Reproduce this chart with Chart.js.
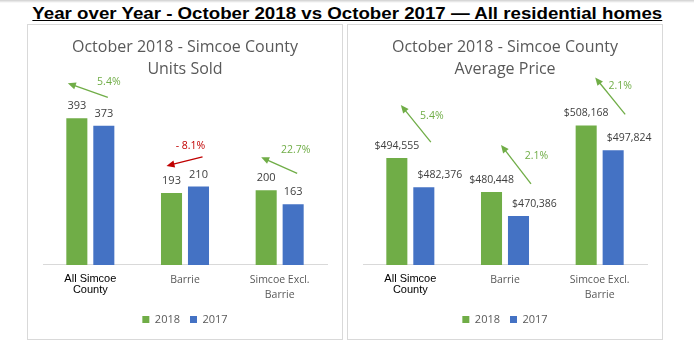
<!DOCTYPE html>
<html>
<head>
<meta charset="utf-8">
<script src="https://cdn.jsdelivr.net/npm/chart.js@4"></script>
<style>
  body { margin: 0; width: 694px; height: 351px; background: #fff; position: relative; overflow: hidden; }
  #band { position: absolute; left: 0; top: 0; width: 694px; height: 3px; background: linear-gradient(#cfcfcf, #fff); }
  #head { position: absolute; left: 0; top: 4px; width: 694px; text-align: center; white-space: nowrap; }
  #head span { display: inline-block; transform: scaleX(1.1); transform-origin: 50% 50%;
          font: bold 17px "Liberation Sans", Arial, sans-serif; color: #000; text-decoration: underline; }
  .panel { position: absolute; top: 24px; width: 316px; height: 316px; border: 1px solid #d9d9d9; box-sizing: border-box; }
  #p1 { left: 27px; }
  #p2 { left: 347px; }
  .panel canvas { position: absolute; left: 0; top: 0; }
</style>
</head>
<body>
<div id="band"></div>
<div id="head"><span>Year over Year - October 2018 vs October 2017 — All residential homes</span></div>
<div class="panel" id="p1"><canvas id="units" width="314" height="314"></canvas></div>
<div class="panel" id="p2"><canvas id="price" width="314" height="314"></canvas></div>
<script>
// data
var categories = [['All Simcoe', 'County'], ['Barrie'], ['Simcoe Excl.', 'Barrie']];
var seriesNames = ['2018', '2017'];
var units2018 = [393, 193, 200];
var units2017 = [373, 210, 163];
var unitsChange = ['5.4%', '- 8.1%', '22.7%'];
var price2018 = [494555, 480448, 508168];
var price2017 = [482376, 470386, 497824];
var priceChange = ['5.4%', '2.1%', '2.1%'];

var GREEN = '#70AD47', BLUE = '#4472C4', RED = '#C00000', GREY = '#595959';

// value labels above bars + change arrows
var annot = {
  id: 'annot',
  afterDatasetsDraw: function(chart, args, o) {
    var ctx = chart.ctx;
    ctx.save();
    ctx.textAlign = 'center';
    ctx.textBaseline = 'middle';
    chart.data.datasets.forEach(function(ds, di) {
      var meta = chart.getDatasetMeta(di);
      ctx.font = o.labelSize + 'px "Open Sans"';
      ctx.fillStyle = '#404040';
      meta.data.forEach(function(bar, i) {
        ctx.fillText(o.fmt(ds.data[i]), bar.x + o.shift[di], bar.y - 12);
      });
    });
    var green = chart.getDatasetMeta(0).data;
    o.changes.forEach(function(txt, i) {
      var a = o.arrows[i], b = green[i];
      var col = txt.indexOf('-') === 0 ? RED : GREEN;
      var x1 = b.x + a[0], y1 = b.y + a[1], x2 = b.x + a[2], y2 = b.y + a[3];
      ctx.strokeStyle = col;
      ctx.fillStyle = col;
      ctx.lineWidth = 1.3;
      var ang = Math.atan2(y2 - y1, x2 - x1);
      ctx.beginPath();
      ctx.moveTo(x1, y1);
      ctx.lineTo(x2 - 5 * Math.cos(ang), y2 - 5 * Math.sin(ang));
      ctx.stroke();
      ctx.beginPath();
      ctx.moveTo(x2, y2);
      ctx.lineTo(x2 - 8 * Math.cos(ang) + 3.5 * Math.sin(ang), y2 - 8 * Math.sin(ang) - 3.5 * Math.cos(ang));
      ctx.lineTo(x2 - 8 * Math.cos(ang) - 3.5 * Math.sin(ang), y2 - 8 * Math.sin(ang) + 3.5 * Math.cos(ang));
      ctx.closePath();
      ctx.fill();
      ctx.font = '10.5px "Open Sans"';
      ctx.fillText(txt, b.x + a[4], b.y + a[5]);
    });
    ctx.restore();
  }
};

function makeChart(id, title, v18, v17, yMin, yMax, annotOpts) {
  return new Chart(document.getElementById(id), {
    type: 'bar',
    data: {
      labels: categories,
      datasets: [
        { label: seriesNames[0], data: v18, backgroundColor: GREEN },
        { label: seriesNames[1], data: v17, backgroundColor: BLUE }
      ]
    },
    options: {
      responsive: false,
      animation: false,
      categoryPercentage: 0.57,
      barPercentage: 0.78,
      layout: { padding: { left: 15, right: 15, top: 11, bottom: 4 } },
      scales: {
        x: {
          grid: { display: false, drawTicks: false },
          border: { display: true, color: '#D9D9D9' },
          afterFit: function(s) { s.height -= 7; },
          ticks: {
            padding: 8,
            maxRotation: 0,
            autoSkip: false,
            color: function(c) { return c.index === 0 ? '#000' : GREY; },
            font: function(c) {
              return c.index === 0
                ? { family: '"Liberation Sans"', size: 11, lineHeight: 1.0 }
                : { family: '"Open Sans"', size: 10.5, lineHeight: 1.43 };
            }
          }
        },
        y: { display: false, min: yMin, max: yMax }
      },
      plugins: {
        title: {
          display: true,
          text: title,
          color: GREY,
          font: { family: '"Open Sans"', size: 16, weight: 'normal', lineHeight: 1.375 },
          padding: { top: 0, bottom: 17 }
        },
        legend: {
          position: 'bottom',
          labels: { boxWidth: 7, boxHeight: 7, padding: 10, color: GREY, font: { family: '"Open Sans"', size: 11 } }
        },
        tooltip: { enabled: false },
        annot: annotOpts
      }
    },
    plugins: [annot]
  });
}

makeChart('units', ['October 2018 - Simcoe County', 'Units Sold'], units2018, units2017, 0, 450, {
  labelSize: 11,
  shift: [0, 0],
  fmt: function(v) { return String(v); },
  changes: unitsChange,
  // tail dx, dy, head dx, dy, label dx, dy (relative to the 2018 bar top)
  arrows: [[31, -21, -9, -35, 32, -36], [31, -36, -5, -27, 19, -47], [31, -17, -5, -33, 29.5, -40]]
});

makeChart('price', ['October 2018 - Simcoe County', 'Average Price'], price2018, price2017, 450000, 520000, {
  labelSize: 10.5,
  shift: [0, 16],
  fmt: function(v) { return '$' + v.toLocaleString('en-US'); },
  changes: priceChange,
  arrows: [[34, -16, 4, -53, 35, -42], [39.5, -8, 9.5, -47, 45, -36], [39, -11, 9, -48, 34, -39]]
});
</script>
</body>
</html>
